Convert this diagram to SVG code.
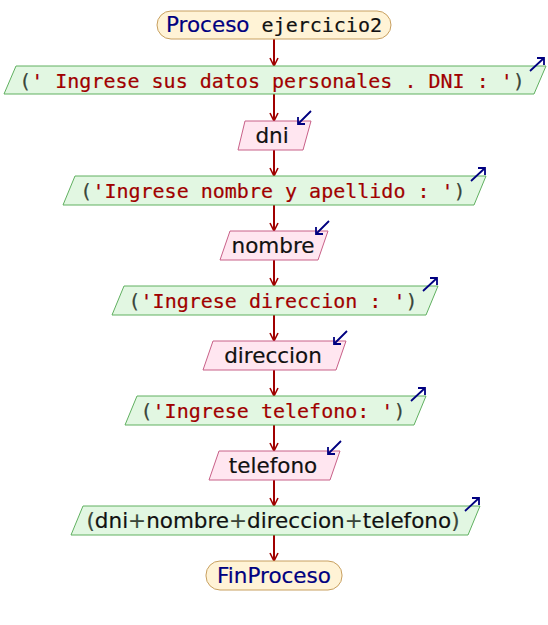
<svg xmlns="http://www.w3.org/2000/svg" width="548" height="625" viewBox="0 0 548 625">
  <defs>
    <marker id="flow" viewBox="0 0 10 10" refX="9" refY="5" markerWidth="10" markerHeight="10" markerUnits="userSpaceOnUse" orient="auto">
      <path d="M1,1 L9,5 L1,9" fill="none" stroke="#a00000" stroke-width="1.6"/>
    </marker>
    <!-- small "output" arrow (up-right) and "input" arrow (down-left) -->
    <path id="outIcon" d="M0,14 L14,1 M7,1 L14,1 L14,8" fill="none" stroke="#000080" stroke-width="1.8"/>
    <path id="inIcon" d="M14,0 L1,13 M1,6 L1,13 L8,13" fill="none" stroke="#000080" stroke-width="1.8"/>
    <style>
      .term { fill: #fff3d6; stroke: #c8a060; stroke-width: 1; }
      .out { fill: #e2f7e2; stroke: #60b060; stroke-width: 1; }
      .in { fill: #ffe6f0; stroke: #c86088; stroke-width: 1; }
      .edge { stroke: #a00000; stroke-width: 2; fill: none; marker-end: url(#flow); }
      text { font-size: 20px; text-anchor: middle; stroke-width: 0.2px; }
      .mono { font-family: "DejaVu Sans Mono", "Liberation Mono", monospace; }
      .sans { font-family: "DejaVu Sans", "Liberation Sans", sans-serif; font-size: 21.5px; }
      .kw { fill: #000080; stroke: #000080; }
      .str { fill: #a00000; stroke: #a00000; }
      .par { fill: #3a463a; stroke: #3a463a; }
      .var { fill: #111111; stroke: #111111; }
    </style>
  </defs>

  <g id="connectors">
    <line class="edge" x1="274" y1="39" x2="274" y2="66"/>
    <line class="edge" x1="274" y1="94" x2="274" y2="121"/>
    <line class="edge" x1="274" y1="150" x2="274" y2="176"/>
    <line class="edge" x1="274" y1="205" x2="274" y2="231"/>
    <line class="edge" x1="274" y1="260" x2="274" y2="286"/>
    <line class="edge" x1="274" y1="315" x2="274" y2="341"/>
    <line class="edge" x1="274" y1="370" x2="274" y2="396"/>
    <line class="edge" x1="274" y1="425" x2="274" y2="451"/>
    <line class="edge" x1="274" y1="480" x2="274" y2="506"/>
    <line class="edge" x1="274" y1="535" x2="274" y2="561"/>
  </g>

  <g id="inicio">
    <rect class="term" x="157" y="11" width="234" height="28" rx="14"/>
    <text y="32" x="274"><tspan class="sans kw">Proceso</tspan><tspan class="mono var"> ejercicio2</tspan></text>
  </g>

  <g id="escribir1">
    <polygon class="out" points="16,66 546,66 534,94 4,94"/>
    <text class="mono" x="272" y="88"><tspan class="par">(</tspan><tspan class="str">' Ingrese sus datos personales . DNI : '</tspan><tspan class="par">)</tspan></text>
    <use href="#outIcon" x="530" y="57"/>
  </g>

  <g id="leer1">
    <polygon class="in" points="245,121 311,121 303,150 238,150"/>
    <text class="sans var" x="272" y="143">dni</text>
    <use href="#inIcon" x="297" y="111"/>
  </g>

  <g id="escribir2">
    <polygon class="out" points="75,176 486,176 474,205 63,205"/>
    <text class="mono" x="273" y="198"><tspan class="par">(</tspan><tspan class="str">'Ingrese nombre y apellido : '</tspan><tspan class="par">)</tspan></text>
    <use href="#outIcon" x="471" y="167"/>
  </g>

  <g id="leer2">
    <polygon class="in" points="230,231 328,231 318,260 220,260"/>
    <text class="sans var" x="273" y="253">nombre</text>
    <use href="#inIcon" x="315" y="221"/>
  </g>

  <g id="escribir3">
    <polygon class="out" points="124,286 438,286 426,315 112,315"/>
    <text class="mono" x="273" y="308"><tspan class="par">(</tspan><tspan class="str">'Ingrese direccion : '</tspan><tspan class="par">)</tspan></text>
    <use href="#outIcon" x="423" y="277"/>
  </g>

  <g id="leer3">
    <polygon class="in" points="213,341 346,341 336,370 203,370"/>
    <text class="sans var" x="273" y="363">direccion</text>
    <use href="#inIcon" x="333" y="331"/>
  </g>

  <g id="escribir4">
    <polygon class="out" points="137,396 426,396 414,425 125,425"/>
    <text class="mono" x="273" y="418"><tspan class="par">(</tspan><tspan class="str">'Ingrese telefono: '</tspan><tspan class="par">)</tspan></text>
    <use href="#outIcon" x="411" y="387"/>
  </g>

  <g id="leer4">
    <polygon class="in" points="219,451 340,451 330,480 209,480"/>
    <text class="sans var" x="273" y="473">telefono</text>
    <use href="#inIcon" x="327" y="441"/>
  </g>

  <g id="escribir5">
    <polygon class="out" points="83,506 480,506 468,535 71,535"/>
    <text class="sans" x="273" y="528"><tspan class="par">(</tspan><tspan class="var">dni</tspan><tspan class="par">+</tspan><tspan class="var">nombre</tspan><tspan class="par">+</tspan><tspan class="var">direccion</tspan><tspan class="par">+</tspan><tspan class="var">telefono</tspan><tspan class="par">)</tspan></text>
    <use href="#outIcon" x="465" y="497"/>
  </g>

  <g id="fin">
    <rect class="term" x="206" y="561" width="136" height="29" rx="14"/>
    <text class="sans kw" x="274" y="583">FinProceso</text>
  </g>
</svg>
